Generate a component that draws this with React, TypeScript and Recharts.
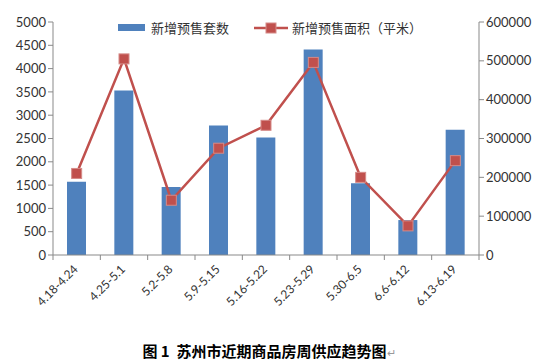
import React from 'react';
import { ComposedChart, Bar, Line, XAxis, YAxis } from 'recharts';

const weeks = ['4.18-4.24', '4.25-5.1', '5.2-5.8', '5.9-5.15', '5.16-5.22', '5.23-5.29', '5.30-6.5', '6.6-6.12', '6.13-6.19'];
const units = [1570, 3530, 1460, 2780, 2520, 4410, 1540, 750, 2690];
const area = [210000, 505000, 141000, 275000, 334000, 496000, 200000, 75000, 243000];
const leftTicks = [0, 500, 1000, 1500, 2000, 2500, 3000, 3500, 4000, 4500, 5000];
const rightTicks = [0, 100000, 200000, 300000, 400000, 500000, 600000];

const data = weeks.map((w, i) => ({ week: w, units: units[i], area: area[i] }));

const AXIS = '#898989';
const BLUE = '#4F81BD';
const RED = '#C0504D';
const FONT = 'Lato, "Noto Sans CJK SC", sans-serif';

const WeekTick = (props: any) => {
  const { x, y, payload, index } = props;
  const off = payload.offset || 0;
  return (
    <g>
      <line x1={x - off} y1={y - 8} x2={x - off} y2={y - 3} stroke={AXIS} />
      {index === weeks.length - 1 && <line x1={x + off} y1={y - 8} x2={x + off} y2={y - 3} stroke={AXIS} />}
      <text x={x + 2} y={y + 7} textAnchor="end" fontSize={12} fill="#333" fontFamily={FONT} transform={`rotate(-45 ${x + 2} ${y + 7})`}>
        {payload.value}
      </text>
    </g>
  );
};

const Square = (props: any) => {
  const { cx, cy } = props;
  if (cx == null || cy == null) return null;
  return <rect x={cx - 5} y={cy - 5} width={10} height={10} fill={RED} stroke="#D58A88" strokeWidth={1} />;
};

const LegendBox = () => (
  <div style={{ position: 'absolute', top: 18, left: 118, display: 'flex', alignItems: 'center', fontFamily: FONT, fontSize: 13, color: '#333' }}>
    <span style={{ display: 'inline-block', width: 27, height: 7, background: BLUE, marginRight: 6 }} />
    <span>新增预售套数</span>
    <svg width={34} height={12} style={{ marginLeft: 25, marginRight: 4 }}>
      <line x1={0} y1={6} x2={34} y2={6} stroke={RED} strokeWidth={2.5} />
      <rect x={12} y={1} width={10} height={10} fill={RED} stroke="#D58A88" />
    </svg>
    <span>新增预售面积（平米）</span>
  </div>
);

export default function App() {
  return (
    <div style={{ position: 'fixed', left: 0, top: 0, width: 538, height: 362, background: '#fff' }}>
      <ComposedChart width={538} height={330} data={data} margin={{ top: 22, right: 0, bottom: 0, left: 0 }}>
        <XAxis
          dataKey="week"
          xAxisId="x"
          interval={0}
          tickLine={false}
          stroke={AXIS}
          height={75}
          tick={<WeekTick />}
        />
        <YAxis
          yAxisId="left"
          domain={[0, 5000]}
          ticks={leftTicks}
          interval={0}
          width={53}
          stroke={AXIS}
          tickSize={5}
          tick={{ fontSize: 13, fill: '#333', fontFamily: FONT }}
        />
        <YAxis
          yAxisId="right"
          orientation="right"
          domain={[0, 600000]}
          ticks={rightTicks}
          interval={0}
          width={59}
          stroke={AXIS}
          tickSize={5}
          tick={{ fontSize: 13, fill: '#333', fontFamily: FONT }}
        />
        <Bar dataKey="units" xAxisId="x" yAxisId="left" fill={BLUE} barSize={19} isAnimationActive={false} />
        <Line
          dataKey="area"
          xAxisId="x"
          yAxisId="right"
          type="linear"
          stroke={RED}
          strokeWidth={2.5}
          dot={<Square />}
          activeDot={false}
          isAnimationActive={false}
        />
      </ComposedChart>
      <LegendBox />
      <div style={{ position: 'absolute', top: 340, left: 0, width: 538, textAlign: 'center', fontFamily: '"Noto Sans CJK SC", sans-serif', fontWeight: 'bold', fontSize: 15, color: '#000', whiteSpace: 'pre' }}>
        {'图 1  苏州市近期商品房周供应趋势图'}<span style={{ color: '#999', fontWeight: 'normal', fontSize: 11 }}>↵</span>
      </div>
    </div>
  );
}
